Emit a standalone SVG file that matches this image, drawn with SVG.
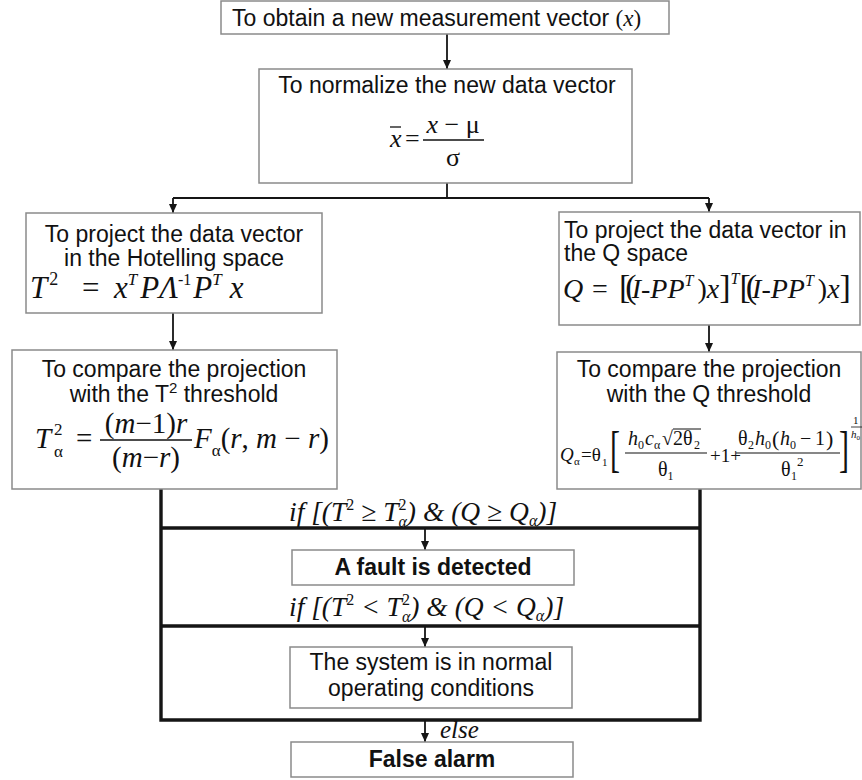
<svg xmlns="http://www.w3.org/2000/svg" width="862" height="780" viewBox="0 0 862 780">
<style>
.box{fill:#fff;stroke:#8a8a8a;stroke-width:1.5}
.conn{stroke:#151515;stroke-width:1.8;fill:none}
.frame{stroke:#151515;stroke-width:3.4;fill:none}
.t{font-family:"Liberation Sans",Arial,sans-serif;font-size:23px;fill:#111}
.tb{font-family:"Liberation Sans",Arial,sans-serif;font-size:23px;font-weight:bold;fill:#111}
.mi{font-family:"Liberation Serif","Times New Roman",serif;font-style:italic;fill:#111}
.up{font-family:"Liberation Serif","Times New Roman",serif;font-style:normal;fill:#111}
.c{text-anchor:middle}
.rule{stroke:#111;fill:none}
</style>
<defs>
<marker id="arr" markerUnits="userSpaceOnUse" markerWidth="9" markerHeight="8" refX="9" refY="4" orient="auto">
<path d="M0,0 L9,4 L0,8 z" fill="#151515"/>
</marker>
</defs>

<g id="connectors">
<path class="conn" d="M447 34 V69" marker-end="url(#arr)"/>
<path class="conn" d="M447 183 V198 M173 198 H709"/>
<path class="conn" d="M173 198 V213" marker-end="url(#arr)"/>
<path class="conn" d="M709 198 V212" marker-end="url(#arr)"/>
<path class="conn" d="M173 313 V350" marker-end="url(#arr)"/>
<path class="conn" d="M709 325 V352" marker-end="url(#arr)"/>
<path class="frame" d="M161 489 V720 H700 V489"/>
<path class="frame" d="M161 528 H700 M161 626 H700"/>
<path class="conn" d="M425 528 V550" marker-end="url(#arr)"/>
<path class="conn" d="M425 626 V647" marker-end="url(#arr)"/>
<path class="conn" d="M425 720 V742" marker-end="url(#arr)"/>
<text class="mi" font-size="27.5" y="521"><tspan x="289">if [(T</tspan><tspan class="up" font-size="16" dy="-11">2</tspan><tspan dy="11"> ≥ T</tspan><tspan class="up" font-size="16" dy="-11">2</tspan><tspan font-size="16" dx="-8" dy="17">α</tspan><tspan dy="-6">) &amp; (Q ≥ Q</tspan><tspan font-size="16" dy="5">α</tspan><tspan dy="-5">)]</tspan></text>
<text class="mi" font-size="27.5" y="616"><tspan x="289">if [(T</tspan><tspan class="up" font-size="16" dy="-11">2</tspan><tspan dy="11"> &lt; T</tspan><tspan class="up" font-size="16" dy="-11">2</tspan><tspan font-size="16" dx="-8" dy="17">α</tspan><tspan dy="-6">) &amp; (Q &lt; Q</tspan><tspan font-size="16" dy="5">α</tspan><tspan dy="-5">)]</tspan></text>
<text class="mi" font-size="25" x="440" y="738">else</text>
</g>

<g id="n1">
<rect class="box" x="221" y="1" width="448" height="33"/>
<text class="t" font-size="25" x="232" y="26">To obtain a new measurement vector <tspan class="up">(</tspan><tspan class="mi">x</tspan><tspan class="up">)</tspan></text>
</g>

<g id="n2">
<rect class="box" x="259" y="69" width="373" height="114"/>
<text class="t c" x="447" y="93">To normalize the new data vector</text>
<text class="mi" font-size="26" x="390" y="147">x</text>
<line class="rule" x1="390" y1="127" x2="401" y2="127" stroke-width="1.3"/>
<text class="up" font-size="26" x="405" y="147">=</text>
<text class="up c" font-size="26" x="453" y="133"><tspan class="mi">x</tspan> − μ</text>
<line class="rule" x1="423" y1="140" x2="484" y2="140" stroke-width="1.3"/>
<text class="up c" font-size="26" x="453" y="166">σ</text>
</g>

<g id="n3">
<rect class="box" x="26" y="213" width="296" height="100"/>
<text class="t c" x="174" y="242">To project the data vector</text>
<text class="t c" x="174" y="266">in the Hotelling space</text>
<text class="mi" font-size="31" y="298"><tspan x="30">T</tspan><tspan class="up" font-size="18" dx="2" dy="-13">2</tspan><tspan class="up" x="82" dy="13">=</tspan><tspan x="114">x</tspan><tspan font-size="17" dy="-13">T</tspan><tspan dy="13" dx="3">PΛ</tspan><tspan class="up" font-size="16" dy="-13">-1</tspan><tspan dy="13" dx="2">P</tspan><tspan font-size="17" dy="-13">T</tspan><tspan dy="13" dx="8">x</tspan></text>
</g>

<g id="n4">
<rect class="box" x="559" y="212" width="301" height="113"/>
<text class="t" x="564" y="238">To project the data vector in</text>
<text class="t" x="564" y="261">the Q space</text>
<text class="mi" font-size="28" y="298"><tspan x="563">Q</tspan><tspan class="up" x="592">=</tspan><tspan class="up" x="619" font-size="34" letter-spacing="-5">[(</tspan><tspan>I-PP</tspan><tspan font-size="16" dy="-12">T</tspan><tspan class="up" dy="12" dx="4">)</tspan><tspan>x</tspan><tspan class="up" font-size="34">]</tspan><tspan font-size="16" dy="-14">T</tspan><tspan class="up" font-size="34" dy="14" letter-spacing="-5">[(</tspan><tspan>I-PP</tspan><tspan font-size="16" dy="-12">T</tspan><tspan class="up" dy="12" dx="4">)</tspan><tspan>x</tspan><tspan class="up" font-size="34">]</tspan></text>
</g>

<g id="n5">
<rect class="box" x="12" y="350" width="325" height="139"/>
<text class="t c" x="174" y="377">To compare the projection</text>
<text class="t c" x="174" y="402">with the T<tspan font-size="15" dy="-9">2</tspan><tspan dy="9"> threshold</tspan></text>
<text class="mi" font-size="29" x="35" y="448">T</text>
<text class="up" font-size="17" x="54" y="435">2</text>
<text class="up" font-size="17" x="54" y="457">α</text>
<text class="up" font-size="29" x="76" y="448">=</text>
<text class="mi c" font-size="29" x="146" y="433"><tspan class="up">(</tspan>m<tspan class="up">−1)</tspan>r</text>
<line class="rule" x1="100" y1="440" x2="192" y2="440" stroke-width="1.4"/>
<text class="mi c" font-size="29" x="146" y="467"><tspan class="up">(</tspan>m<tspan class="up">−</tspan>r<tspan class="up">)</tspan></text>
<text class="mi" font-size="29" x="194" y="448">F<tspan class="up" font-size="17" dy="8">α</tspan><tspan class="up" dy="-8">(</tspan>r<tspan class="up">, </tspan>m<tspan class="up"> − </tspan>r<tspan class="up">)</tspan></text>
</g>

<g id="n6">
<rect class="box" x="557" y="352" width="304" height="137"/>
<text class="t c" x="709" y="377">To compare the projection</text>
<text class="t c" x="709" y="402">with the Q threshold</text>
<text class="mi" font-size="19" x="560" y="461">Q</text>
<text class="up" font-size="11" x="574" y="465">α</text>
<text class="up" font-size="19" x="581" y="461">=θ</text>
<text class="up" font-size="11" x="602" y="466">1</text>
<text class="up" font-size="30" transform="translate(610,466) scale(1,1.7)">[</text>
<text class="mi" font-size="20" x="628" y="445">h</text>
<text class="up" font-size="12" x="638" y="449">0</text>
<text class="mi" font-size="20" x="645" y="445">c</text>
<text class="up" font-size="12" x="654" y="449">α</text>
<text class="up" font-size="20" x="662" y="445">√</text>
<text class="up" font-size="20" x="673" y="445">2θ</text>
<text class="up" font-size="12" x="694" y="449">2</text>
<line class="rule" x1="673" y1="429" x2="701" y2="429" stroke-width="1"/>
<line class="rule" x1="625" y1="453" x2="707" y2="453" stroke-width="1.1"/>
<text class="up" font-size="20" x="658" y="476">θ<tspan font-size="12" dy="4">1</tspan></text>
<text class="up" font-size="19" x="710" y="462">+1+</text>
<text class="up" font-size="20" x="738" y="445">θ</text>
<text class="up" font-size="12" x="748" y="449">2</text>
<text class="mi" font-size="20" x="755" y="445">h</text>
<text class="up" font-size="12" x="765" y="449">0</text>
<text class="up" font-size="22" x="772" y="446">(</text>
<text class="mi" font-size="20" x="780" y="445">h</text>
<text class="up" font-size="12" x="790" y="449">0</text>
<text class="up" font-size="20" x="800" y="445">−</text>
<text class="up" font-size="20" x="815" y="445">1</text>
<text class="up" font-size="22" x="826" y="446">)</text>
<line class="rule" x1="736" y1="453" x2="840" y2="453" stroke-width="1.1"/>
<text class="up" font-size="20" x="781" y="476">θ</text>
<text class="up" font-size="12" x="791" y="480">1</text>
<text class="up" font-size="13" x="797" y="466">2</text>
<text class="up" font-size="30" transform="translate(839,466) scale(1,1.7)">]</text>
<text class="up" font-size="11" x="853" y="424">1</text>
<line class="rule" x1="851" y1="427" x2="862" y2="427" stroke-width="0.8"/>
<text class="mi" font-size="11" x="851" y="438">h<tspan class="up" font-size="7" dy="2">0</tspan></text>
</g>

<g id="n7">
<rect class="box" x="292" y="550" width="282" height="35"/>
<text class="tb c" x="433" y="575">A fault is detected</text>
</g>

<g id="n8">
<rect class="box" x="290" y="647" width="282" height="61"/>
<text class="t c" x="431" y="670">The system is in normal</text>
<text class="t c" x="431" y="696">operating conditions</text>
</g>

<g id="n9">
<rect class="box" x="291" y="742" width="282" height="35"/>
<text class="tb c" x="432" y="767">False alarm</text>
</g>
</svg>
